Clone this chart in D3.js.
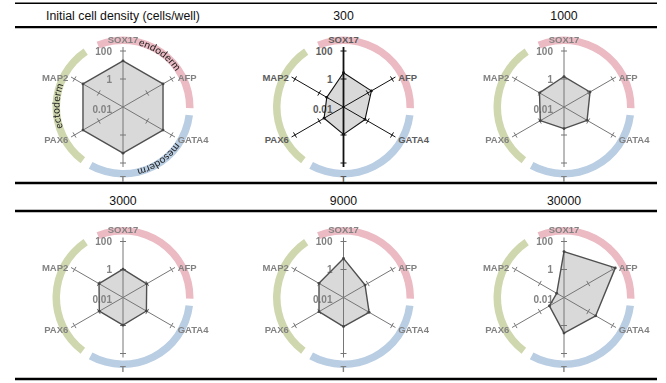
<!DOCTYPE html>
<html>
<head>
<meta charset="utf-8">
<script src="https://cdn.jsdelivr.net/npm/d3@7"></script>
<style>
  html, body { margin: 0; padding: 0; background: #fff; }
  svg { display: block; }
</style>
</head>
<body>
<svg id="chart" width="666" height="383"></svg>
<script>
// Marker genes, clockwise from the top
const genes = ["SOX17", "AFP", "GATA4", "T", "PAX6", "MAP2"];

// Column headings of the two table rows
const headings = ["Initial cell density (cells/well)", "300", "1000", "3000", "9000", "30000"];

// Relative expression per gene (log scale), one array per panel
const exprSchematic = [20, 20, 20, 20, 20, 20];
const expr300   = [2.8, 2.0, 0.6, 0.9, 0.4, 0.24];
const expr1000  = [1.5, 1.4, 0.8, 0.35, 0.9, 1.05];
const expr3000  = [1.05, 0.9, 0.85, 0.95, 0.9, 0.95];
const expr9000  = [6.2, 0.6, 1.3, 1.2, 1.05, 1.05];
const expr30000 = [19, 170, 4.1, 3.5, 0.16, 0.04];

// Radial axis ticks
const tickValues = [0.01, 1, 100];
const tickLabels = ["0.01", "1", "100"];

// Germ layers and the gene sectors they cover (degrees, clockwise from top)
const layers = ["endoderm", "mesoderm", "ectoderm"];
const layerStart = [-22, 97, 217];
const layerEnd = [91, 209, 326];

const panels = [exprSchematic, expr300, expr1000, expr3000, expr9000, expr30000];

const svg = d3.select("#chart");

const colX = d3.scalePoint().domain([0, 1, 2]).range([123, 564]);
const rowY = [107, 297.5];
const headY = [16, 201];

const r = d3.scaleLog().domain([0.01, 100]).range([0, 56]);
const axisLen = 60;
const angle = d3.scalePoint().domain(genes).range([0, 300]);
const rad = d => d * Math.PI / 180;
const pt = (g, rr) => {
  const a = rad(angle(g));
  return [rr * Math.sin(a), -rr * Math.cos(a)];
};

const layerColor = d3.scaleOrdinal().domain(layers).range(["#ebbac3", "#b9cde3", "#cfd7ae"]);

// soft-focus filter for the scanned panels
const defs = svg.append("defs");
defs.append("filter").attr("id", "soft").attr("x", "-10%").attr("y", "-10%")
  .attr("width", "120%").attr("height", "120%")
  .append("feGaussianBlur").attr("stdDeviation", 0.45);

// table rules
const rules = [
  { y: 3.3, w: 1.4 }, { y: 27.2, w: 2.3 }, { y: 183, w: 2.5 },
  { y: 211, w: 2.3 }, { y: 379, w: 2.5 }
];
svg.append("g").selectAll("line").data(rules).join("line")
  .attr("x1", 15).attr("x2", 657)
  .attr("y1", d => d.y).attr("y2", d => d.y)
  .attr("stroke", "#000").attr("stroke-width", d => d.w);

// headings
svg.append("g").selectAll("text").data(headings).join("text")
  .attr("x", (d, i) => colX(i % 3))
  .attr("y", (d, i) => headY[Math.floor(i / 3)])
  .attr("text-anchor", "middle")
  .attr("dominant-baseline", "central")
  .attr("font-family", "Liberation Sans, Arial, sans-serif")
  .attr("font-size", 12.3)
  .attr("fill", "#111")
  .text(d => d);

const arc = d3.arc().innerRadius(63).outerRadius(70.5);

panels.forEach((vals, i) => {
  const crisp = i === 1;
  const g = svg.append("g")
    .attr("transform", `translate(${colX(i % 3)},${rowY[Math.floor(i / 3)]})`);
  if (!crisp) g.attr("filter", "url(#soft)");

  const axisColor = crisp ? "#111" : "#767676";
  const labelColor = crisp ? "#5c5c5c" : "#828282";

  // germ-layer arcs
  g.selectAll("path.layer").data(layers).join("path")
    .attr("class", "layer")
    .attr("d", (d, k) => arc({ startAngle: rad(layerStart[k]), endAngle: rad(layerEnd[k]) }))
    .attr("fill", d => layerColor(d));

  // expression polygon (fill)
  const poly = genes.map((gn, k) => pt(gn, r(vals[k])));
  g.append("path")
    .attr("d", d3.line()(poly) + "Z")
    .attr("fill", "#d9d9d9")
    .attr("stroke", "none");

  // axes
  g.selectAll("line.axis").data(genes.slice(0, 3)).join("line")
    .attr("class", "axis")
    .attr("x1", d => pt(d, axisLen)[0]).attr("y1", d => pt(d, axisLen)[1])
    .attr("x2", d => pt(d, -axisLen)[0]).attr("y2", d => pt(d, -axisLen)[1])
    .attr("stroke", axisColor)
    .attr("stroke-width", d => crisp && d === "SOX17" ? 1.8 : 1);

  // tick marks at 1 and 100 on every axis
  const marks = [];
  genes.forEach(gn => [1, 100].forEach(v => marks.push({ gn, v })));
  g.selectAll("line.mark").data(marks).join("line")
    .attr("class", "mark")
    .each(function (d) {
      const a = rad(angle(d.gn));
      const [cx, cy] = pt(d.gn, r(d.v));
      const px = Math.cos(a) * 3, py = Math.sin(a) * 3;
      d3.select(this)
        .attr("x1", cx - px).attr("y1", cy - py)
        .attr("x2", cx + px).attr("y2", cy + py);
    })
    .attr("stroke", axisColor)
    .attr("stroke-width", 1);

  // tick labels on the SOX17 axis
  g.selectAll("text.tick").data(tickValues).join("text")
    .attr("class", "tick")
    .attr("x", -11)
    .attr("y", d => -r(d) + (d === 0.01 ? 2 : 0))
    .attr("text-anchor", "end")
    .attr("dominant-baseline", "central")
    .attr("font-family", "Liberation Sans, Arial, sans-serif")
    .attr("font-weight", "bold")
    .attr("font-size", 10)
    .attr("fill", labelColor)
    .text((d, k) => tickLabels[k]);

  // expression polygon (outline + vertices)
  g.append("path")
    .attr("d", d3.line()(poly) + "Z")
    .attr("fill", "none")
    .attr("stroke", crisp ? "#111" : "#505050")
    .attr("stroke-width", crisp ? 1.1 : 1.4)
    .attr("stroke-linejoin", "round");
  g.selectAll("circle.vtx").data(poly).join("circle")
    .attr("class", "vtx")
    .attr("cx", d => d[0]).attr("cy", d => d[1])
    .attr("r", 1.4)
    .attr("fill", crisp ? "#111" : "#444");

  // gene labels
  g.selectAll("text.gene").data(genes).join("text")
    .attr("class", "gene")
    .each(function (d) {
      const a = angle(d);
      const s = Math.sin(rad(a));
      const vertical = Math.abs(s) < 0.1;
      const [x, y] = pt(d, vertical ? 68 : 62);
      d3.select(this)
        .attr("x", x + (s > 0.1 ? 1 : s < -0.1 ? -1 : 0))
        .attr("y", y + (vertical ? (a === 0 ? 0 : 3) : 1))
        .attr("text-anchor", s > 0.1 ? "start" : s < -0.1 ? "end" : "middle");
    })
    .attr("dominant-baseline", "central")
    .attr("font-family", "Liberation Sans, Arial, sans-serif")
    .attr("font-weight", "bold")
    .attr("font-size", 9.5)
    .attr("fill", labelColor)
    .text(d => d);

  // germ-layer names along the arcs on the schematic panel
  if (i === 0) {
    const textPos = [[14, 60], [124, 190], [251, 295]];
    layers.forEach((ly, k) => {
      const id = "lp" + k;
      const rr = 63.5;
      const a0 = rad(textPos[k][0]), a1 = rad(textPos[k][1]);
      const p0 = [rr * Math.sin(a0), -rr * Math.cos(a0)];
      const p1 = [rr * Math.sin(a1), -rr * Math.cos(a1)];
      g.append("path").attr("id", id).attr("fill", "none")
        .attr("d", `M${p0[0]},${p0[1]} A${rr},${rr} 0 0 1 ${p1[0]},${p1[1]}`);
      g.append("text")
        .attr("font-family", "Lato, Carlito, sans-serif")
        .attr("font-size", 10.4)
        .attr("fill", "#222")
        .append("textPath")
        .attr("href", "#" + id)
        .text(ly);
    });
  }
});
</script>
</body>
</html>
